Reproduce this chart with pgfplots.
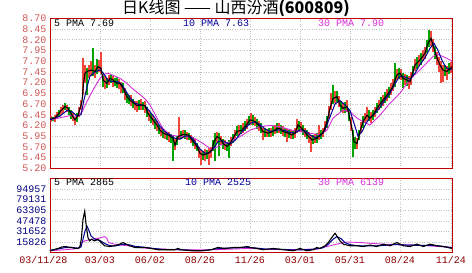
\documentclass[border=0pt]{standalone}
\usepackage{pgfplots}
\pgfplotsset{compat=1.18}
\usepackage{fontspec}
\setmainfont{Liberation Sans}
\setmonofont{Liberation Mono}
\newfontfamily\cjk{Noto Sans CJK SC}
\definecolor{frame}{RGB}{192,0,0}
\definecolor{ylab}{RGB}{205,85,85}
\definecolor{vlab}{RGB}{0,0,128}
\definecolor{dlab}{RGB}{140,0,0}
\definecolor{candleup}{RGB}{240,70,60}
\definecolor{candledn}{RGB}{0,165,0}
\definecolor{ma10}{RGB}{0,0,150}
\definecolor{ma30}{RGB}{215,45,215}

\pgfplotsset{
  panel/.style={
    scale only axis, width=402pt, xmin=50, xmax=452,
    axis line style={frame, line width=0.9pt},
    xmajorgrids, ymajorgrids,
    major grid style={gray!50, dotted, line width=0.6pt},
    xtick={50,100,150,200,250,300,350,400,451},
    major tick length=0pt,
    tick style={draw=none},
    ticklabel style={font=\ttfamily\fontsize{10}{10}\selectfont},
    scaled y ticks=false,
  },
}

\begin{document}
\begin{tikzpicture}[x=1pt,y=1pt]
\path[use as bounding box] (0,0) rectangle (472,273);
\node[font=\cjk\fontsize{16}{16}\selectfont, anchor=center] at (236,264.5) {日K线图 —— 山西汾酒{\bfseries(600809)}};

% ---------- price panel ----------
\begin{axis}[panel, at={(50pt,104.7pt)}, anchor=south west, height=150pt,
  ymin=5.20, ymax=8.70,
  ytick={5.20,5.45,5.70,5.95,6.20,6.45,6.70,6.95,7.20,7.45,7.70,7.95,8.20,8.45,8.70},
  yticklabels={5.20,5.45,5.70,5.95,6.20,6.45,6.70,6.95,7.20,7.45,7.70,7.95,8.20,8.45,8.70},
  yticklabel style={text=ylab},
  xticklabels={},
  unbounded coords=jump,
]
% rising candles (low -> high)
\addplot[color=candleup, draw=candleup, solid, line width=1.5pt, line cap=butt, forget plot] coordinates {
(51,6.28)(51,6.42)(51,nan) (55,6.27)(55,6.45)(55,nan) (57,6.36)(57,6.52)(57,nan) (61,6.45)(61,6.62)(61,nan)
(63,6.50)(63,6.68)(63,nan) (67,6.52)(67,6.68)(67,nan) (73,6.30)(73,6.48)(73,nan) (75,6.20)(75,6.40)(75,nan)
(79,6.40)(79,6.62)(79,nan) (81,6.55)(81,6.80)(81,nan) (83,6.90)(83,7.78)(83,nan) (85,7.20)(85,7.60)(85,nan)
(89,7.30)(89,7.62)(89,nan) (91,7.35)(91,7.70)(91,nan) (95,7.30)(95,7.62)(95,nan) (99,7.45)(99,7.72)(99,nan)
(101,7.40)(101,7.92)(101,nan) (105,7.05)(105,7.35)(105,nan) (109,7.15)(109,7.38)(109,nan) (113,7.10)(113,7.35)(113,nan)
(119,7.05)(119,7.28)(119,nan) (121,6.95)(121,7.22)(121,nan) (125,6.80)(125,7.08)(125,nan) (131,6.65)(131,6.90)(131,nan)
(135,6.55)(135,6.78)(135,nan) (137,6.52)(137,6.78)(137,nan) (141,6.57)(141,6.82)(141,nan) (145,6.50)(145,6.78)(145,nan)
(149,6.30)(149,6.55)(149,nan) (153,6.20)(153,6.42)(153,nan) (157,6.08)(157,6.30)(157,nan) (161,5.95)(161,6.15)(161,nan)
(165,5.88)(165,6.08)(165,nan) (169,5.82)(169,6.05)(169,nan) (175,5.62)(175,5.88)(175,nan) (179,5.85)(179,6.40)(179,nan)
(183,5.90)(183,6.10)(183,nan) (187,5.87)(187,6.05)(187,nan) (191,5.78)(191,5.98)(191,nan) (195,5.65)(195,5.88)(195,nan)
(199,5.45)(199,5.70)(199,nan) (201,5.28)(201,5.62)(201,nan) (205,5.38)(205,5.65)(205,nan) (209,5.28)(209,5.68)(209,nan)
(211,5.45)(211,5.70)(211,nan) (217,5.80)(217,6.05)(217,nan) (221,5.75)(221,5.96)(221,nan) (225,5.62)(225,5.85)(225,nan)
(231,5.72)(231,5.92)(231,nan) (235,5.88)(235,6.10)(235,nan) (239,5.98)(239,6.20)(239,nan) (243,6.02)(243,6.25)(243,nan)
(247,6.12)(247,6.36)(247,nan) (251,6.22)(251,6.48)(251,nan) (255,6.18)(255,6.40)(255,nan) (259,6.08)(259,6.30)(259,nan)
(263,5.85)(263,6.15)(263,nan) (267,5.92)(267,6.12)(267,nan) (271,5.94)(271,6.15)(271,nan) (275,6.00)(275,6.22)(275,nan)
(279,6.02)(279,6.26)(279,nan) (283,5.95)(283,6.18)(283,nan) (287,5.82)(287,6.12)(287,nan) (291,5.88)(291,6.10)(291,nan)
(295,5.90)(295,6.15)(295,nan) (297,6.02)(297,6.35)(297,nan) (301,6.05)(301,6.28)(301,nan) (305,5.92)(305,6.15)(305,nan)
(309,5.80)(309,6.05)(309,nan) (311,5.59)(311,5.98)(311,nan) (315,5.78)(315,6.00)(315,nan) (319,5.85)(319,6.20)(319,nan)
(323,5.92)(323,6.15)(323,nan) (325,6.05)(325,6.30)(325,nan) (329,6.35)(329,6.65)(329,nan) (331,6.55)(331,6.95)(331,nan)
(335,6.72)(335,7.00)(335,nan) (339,6.62)(339,6.88)(339,nan) (343,6.48)(343,6.72)(343,nan) (347,6.52)(347,6.80)(347,nan)
(351,6.08)(351,6.40)(351,nan) (357,5.66)(357,5.90)(357,nan) (361,6.02)(361,6.28)(361,nan) (365,6.25)(365,6.50)(365,nan)
(367,6.30)(367,6.62)(367,nan) (371,6.25)(371,6.52)(371,nan) (375,6.40)(375,6.63)(375,nan) (379,6.55)(379,6.80)(379,nan)
(383,6.66)(383,6.92)(383,nan) (387,6.78)(387,7.05)(387,nan) (391,6.92)(391,7.18)(391,nan) (393,7.00)(393,7.28)(393,nan)
(397,7.25)(397,7.52)(397,nan) (401,7.25)(401,7.52)(401,nan) (405,7.15)(405,7.40)(405,nan) (409,7.05)(409,7.36)(409,nan)
(411,7.15)(411,7.45)(411,nan) (415,7.48)(415,7.75)(415,nan) (419,7.58)(419,7.85)(419,nan) (423,7.70)(423,7.95)(423,nan)
(425,7.75)(425,8.02)(425,nan) (431,8.05)(431,8.40)(431,nan) (433,7.92)(433,8.22)(433,nan) (437,7.62)(437,7.92)(437,nan)
(439,7.45)(439,7.80)(439,nan) (441,7.18)(441,7.70)(441,nan) (443,7.22)(443,7.62)(443,nan) (447,7.25)(447,7.58)(447,nan)
(451,7.42)(451,7.68)(451,nan)};
% falling candles (low -> high)
\addplot[color=candledn, draw=candledn, solid, line width=1.5pt, line cap=butt, forget plot] coordinates {
(53,6.30)(53,6.40)(53,nan) (59,6.40)(59,6.55)(59,nan) (65,6.55)(65,6.72)(65,nan) (69,6.45)(69,6.62)(69,nan)
(71,6.36)(71,6.55)(71,nan) (77,6.28)(77,6.48)(77,nan) (87,6.92)(87,7.55)(87,nan) (93,7.35)(93,8.00)(93,nan)
(97,7.40)(97,7.75)(97,nan) (103,7.10)(103,7.40)(103,nan) (107,7.08)(107,7.30)(107,nan) (111,7.18)(111,7.40)(111,nan)
(115,7.12)(115,7.30)(115,nan) (117,7.08)(117,7.32)(117,nan) (123,6.95)(123,7.18)(123,nan) (127,6.72)(127,6.95)(127,nan)
(129,6.70)(129,6.92)(129,nan) (133,6.60)(133,6.82)(133,nan) (139,6.55)(139,6.80)(139,nan) (143,6.55)(143,6.75)(143,nan)
(147,6.40)(147,6.62)(147,nan) (151,6.25)(151,6.48)(151,nan) (155,6.12)(155,6.35)(155,nan) (159,6.00)(159,6.22)(159,nan)
(163,5.90)(163,6.10)(163,nan) (167,5.85)(167,6.05)(167,nan) (171,5.80)(171,6.00)(171,nan) (173,5.36)(173,5.95)(173,nan)
(177,5.75)(177,5.95)(177,nan) (181,5.88)(181,6.08)(181,nan) (185,5.88)(185,6.10)(185,nan) (189,5.85)(189,6.02)(189,nan)
(193,5.72)(193,5.92)(193,nan) (197,5.60)(197,5.80)(197,nan) (203,5.40)(203,5.60)(203,nan) (207,5.42)(207,5.62)(207,nan)
(213,5.60)(213,5.85)(213,nan) (215,5.38)(215,6.02)(215,nan) (219,5.48)(219,6.02)(219,nan) (223,5.65)(223,5.88)(223,nan)
(227,5.60)(227,5.80)(227,nan) (229,5.43)(229,5.85)(229,nan) (233,5.80)(233,6.00)(233,nan) (237,5.95)(237,6.18)(237,nan)
(241,6.00)(241,6.20)(241,nan) (245,6.08)(245,6.30)(245,nan) (249,6.20)(249,6.42)(249,nan) (253,6.20)(253,6.45)(253,nan)
(257,6.12)(257,6.35)(257,nan) (261,6.02)(261,6.25)(261,nan) (265,5.94)(265,6.15)(265,nan) (269,5.93)(269,6.14)(269,nan)
(273,5.96)(273,6.18)(273,nan) (277,6.02)(277,6.25)(277,nan) (281,6.00)(281,6.22)(281,nan) (285,5.92)(285,6.15)(285,nan)
(289,5.90)(289,6.10)(289,nan) (293,5.88)(293,6.08)(293,nan) (299,6.08)(299,6.30)(299,nan) (303,5.98)(303,6.20)(303,nan)
(307,5.88)(307,6.10)(307,nan) (313,5.76)(313,5.98)(313,nan) (317,5.80)(317,6.02)(317,nan) (321,5.88)(321,6.10)(321,nan)
(327,6.15)(327,6.42)(327,nan) (333,6.70)(333,7.14)(333,nan) (337,6.75)(337,7.00)(337,nan) (341,6.52)(341,6.78)(341,nan)
(345,6.50)(345,6.75)(345,nan) (349,6.30)(349,6.58)(349,nan) (353,5.47)(353,6.10)(353,nan) (355,5.65)(355,5.92)(355,nan)
(359,5.85)(359,6.10)(359,nan) (363,6.15)(363,6.42)(363,nan) (369,6.30)(369,6.55)(369,nan) (373,6.32)(373,6.56)(373,nan)
(377,6.48)(377,6.72)(377,nan) (381,6.60)(381,6.86)(381,nan) (385,6.72)(385,6.98)(385,nan) (389,6.85)(389,7.10)(389,nan)
(395,7.10)(395,7.65)(395,nan) (399,7.28)(399,7.55)(399,nan) (403,7.07)(403,7.42)(403,nan) (407,7.12)(407,7.38)(407,nan)
(413,7.32)(413,7.58)(413,nan) (417,7.52)(417,7.80)(417,nan) (421,7.62)(421,7.90)(421,nan) (427,7.90)(427,8.20)(427,nan)
(429,8.02)(429,8.43)(429,nan) (435,7.75)(435,8.05)(435,nan) (445,7.35)(445,7.60)(445,nan) (449,7.40)(449,7.65)(449,nan)};
% 30 MA
\addplot[ma30, line width=0.9pt] coordinates {
(50,6.33) (60,6.38) (70,6.43) (77,6.41) (82,6.51) (87,6.76) (93,7.03) (100,7.30) (105,7.40) (108,7.42) (112,7.38) (120,7.30) (127,7.18) (132,7.07) (140,6.92) (145,6.82) (150,6.68) (157,6.37) (163,6.13) (170,5.98) (180,5.94) (193,5.92) (203,5.78) (212,5.63) (220,5.74) (230,5.82) (240,5.94) (250,6.09) (260,6.17) (270,6.20) (280,6.17) (292,6.09) (300,6.06) (310,6.02) (320,5.98) (327,6.09) (333,6.37) (343,6.56) (350,6.52) (357,6.37) (363,6.29) (370,6.21) (380,6.44) (390,6.72) (400,6.95) (407,7.18) (413,7.34) (423,7.57) (433,7.81) (437,7.86) (443,7.81) (450,7.73) (452,7.70)};
% 10 MA
\addplot[ma10, line width=1pt] coordinates {
(50,6.33) (60,6.42) (67,6.55) (72,6.52) (77,6.42) (81,6.45) (84,6.80) (87,7.10) (90,7.35) (95,7.45) (100,7.50) (104,7.40) (108,7.25) (113,7.22) (118,7.22) (122,7.15) (126,7.00) (130,6.85) (135,6.72) (140,6.68) (145,6.66) (150,6.52) (155,6.37) (160,6.18) (165,6.05) (170,5.98) (175,5.90) (180,5.88) (185,5.95) (190,5.95) (195,5.82) (200,5.65) (205,5.55) (210,5.57) (214,5.68) (218,5.82) (222,5.85) (226,5.80) (230,5.76) (235,5.85) (240,6.00) (245,6.12) (250,6.25) (255,6.28) (260,6.22) (265,6.12) (270,6.06) (275,6.08) (280,6.10) (285,6.08) (290,6.04) (295,6.02) (300,6.10) (305,6.08) (310,5.98) (315,5.92) (320,5.95) (325,6.10) (330,6.40) (335,6.70) (340,6.78) (345,6.68) (350,6.55) (354,6.25) (358,5.95) (362,6.05) (366,6.25) (370,6.38) (375,6.48) (380,6.62) (385,6.80) (390,6.95) (395,7.18) (400,7.35) (405,7.33) (410,7.28) (415,7.42) (420,7.62) (425,7.78) (430,8.00) (434,8.12) (438,7.95) (442,7.72) (446,7.55) (450,7.50) (452,7.52)};
% 5 MA
\addplot[black, line width=1.1pt] coordinates {
(50,6.37) (55,6.37) (60,6.52) (65,6.64) (68,6.60) (72,6.44) (75,6.33) (78,6.44) (82,6.76) (83.5,7.18) (85,7.42) (88,7.47) (92,7.49) (95,7.46) (98,7.57) (101,7.53) (103,7.26) (107,7.18) (110,7.30) (113,7.26) (117,7.18) (120,7.18) (123,7.07) (127,6.87) (130,6.79) (137,6.66) (142,6.68) (145,6.66) (148,6.48) (153,6.33) (157,6.21) (160,6.09) (163,6.02) (168,5.98) (173,5.90) (175,5.74) (178,5.94) (183,5.99) (188,5.98) (192,5.86) (197,5.71) (200,5.55) (203,5.51) (208,5.55) (212,5.63) (214,5.82) (217,5.94) (220,5.90) (223,5.78) (227,5.71) (230,5.78) (233,5.90) (237,6.06) (242,6.09) (247,6.23) (250,6.33) (255,6.29) (260,6.17) (263,6.06) (268,6.02) (273,6.06) (277,6.13) (280,6.13) (283,6.06) (288,6.02) (292,5.98) (295,6.02) (298,6.21) (302,6.13) (307,5.98) (312,5.86) (317,5.90) (320,5.98) (323,6.02) (327,6.29) (330,6.60) (333,6.83) (337,6.87) (340,6.68) (343,6.60) (347,6.64) (349,6.44) (352,6.13) (354,5.82) (357,5.78) (360,6.06) (363,6.29) (367,6.44) (370,6.37) (373,6.44) (377,6.60) (382,6.76) (387,6.91) (392,7.07) (397,7.38) (400,7.42) (403,7.30) (407,7.26) (410,7.22) (415,7.61) (420,7.73) (425,7.88) (428,8.12) (431,8.23) (433,8.08) (437,7.77) (440,7.61) (443,7.49) (447,7.46) (450,7.53) (452,7.57)};
\node[anchor=west, inner sep=0pt, font=\ttfamily\fontsize{10}{10}\selectfont, text=black] at (axis cs:54,8.58) {5 PMA 7.69};
\node[anchor=west, inner sep=0pt, font=\ttfamily\fontsize{10}{10}\selectfont, text=ma10] at (axis cs:183,8.58) {10 PMA 7.63};
\node[anchor=west, inner sep=0pt, font=\ttfamily\fontsize{10}{10}\selectfont, text=ma30] at (axis cs:318,8.58) {30 PMA 7.90};
\end{axis}

% ---------- volume panel ----------
\begin{axis}[panel, at={(50pt,20.3pt)}, anchor=south west, height=74.4pt,
  ymin=0, ymax=110782,
  ytick={15826,31652,47478,63305,79131,94957},
  yticklabels={15826,31652,47478,63305,79131,94957},
  yticklabel style={text=vlab},
  xticklabels={{\hspace*{-13pt}03/11/28},03/03,06/02,08/26,11/26,03/01,05/31,08/24,11/24},
  xticklabel style={text=dlab},
]
\addplot[ma30, line width=0.9pt] coordinates {
(50,2900) (65,4400) (79,6300) (81.5,15100) (85,17600) (91.3,20000) (98,21500) (104.7,23900) (107,21000) (108.5,15100) (114.7,12700) (128,10300) (138,7800) (154.7,5800) (181.3,4400) (214.7,4400) (248,6300) (283.3,4400) (316.7,5100) (330,10300) (336.7,12700) (346.7,16000) (360,15100) (383.3,12700) (416.7,11400) (452,7800)};
\addplot[ma10, line width=1pt] coordinates {
(50,3500) (58,5500) (65,7500) (72,7800) (78,6800) (81,8500) (83,20000) (85,32000) (87,39500) (89,33000) (91,25000) (95,20000) (100,18000) (105,13500) (110,10500) (115,10000) (120,11500) (125,12500) (130,11500) (135,9500) (145,8000) (155,6000) (165,4800) (175,4500) (185,4200) (195,3200) (205,3200) (215,5500) (225,6800) (235,7200) (245,8200) (255,7200) (265,5500) (275,5500) (285,4800) (295,4000) (305,4500) (315,5500) (322,7000) (328,12000) (333,20000) (337,24000) (341,21000) (345,15000) (350,12000) (357,10500) (365,10000) (375,10200) (385,11000) (395,12000) (405,11500) (415,11000) (425,10800) (435,10800) (445,9000) (452,7500)};
\addplot[black, line width=1.1pt] coordinates {
(50,2900) (55,5000) (58,6300) (62,8500) (65,9200) (68,8500) (71,7800) (75,6500) (78,6300) (80,9200) (81.5,22400) (83,49400) (84.7,61500) (86.3,39500) (88,22400) (89.7,17600) (91.3,20000) (94.7,17600) (98,20000) (101.3,15100) (104.7,10300) (109.7,9200) (114.7,10300) (119.7,12700) (123,15100) (128,11400) (134.7,7800) (144.7,7800) (151.3,6300) (158,4400) (168,4400) (174.7,4400) (178,6300) (181.3,4400) (191.3,2900) (201.3,2900) (211.3,4400) (218,7800) (224.7,6300) (234.7,7800) (241.3,7800) (248,9200) (250,7800) (256.7,6300) (263.3,4400) (273.3,6300) (283.3,4400) (293.3,2900) (300,6300) (306.7,2900) (313.3,4400) (316.7,7800) (320,6300) (325,10300) (328.3,15100) (331.7,22400) (335,28900) (337.3,24000) (340,17600) (343.3,12700) (350,10300) (356.7,10300) (363.3,9200) (370,11400) (376.7,9200) (383.3,12700) (390,10300) (396.7,15100) (403.3,10300) (410,9200) (416.7,12700) (423.3,9200) (430,12700) (436.7,10300) (443.3,9200) (452,6300)};
\node[anchor=west, inner sep=0pt, font=\ttfamily\fontsize{10}{10}\selectfont, text=black] at (axis cs:54,104300) {5 PMA 2865};
\node[anchor=west, inner sep=0pt, font=\ttfamily\fontsize{10}{10}\selectfont, text=ma10] at (axis cs:185,104300) {10 PMA 2525};
\node[anchor=west, inner sep=0pt, font=\ttfamily\fontsize{10}{10}\selectfont, text=ma30] at (axis cs:318,104300) {30 PMA 6139};
\end{axis}
\end{tikzpicture}
\end{document}
